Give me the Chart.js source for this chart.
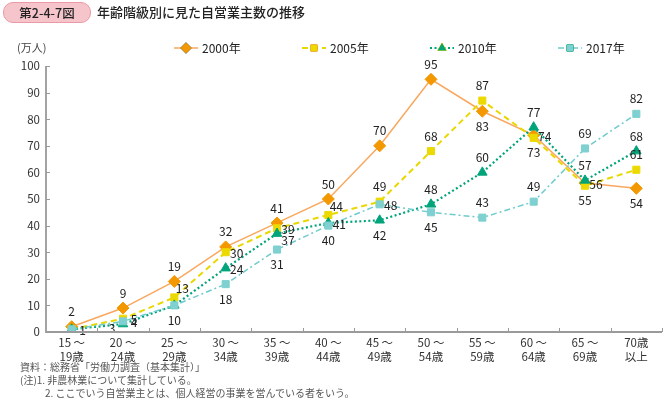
<!DOCTYPE html>
<html lang="ja">
<head>
<meta charset="utf-8">
<script src="https://cdn.jsdelivr.net/npm/chart.js@4.4.1/dist/chart.umd.min.js"></script>
<style>
  html, body { margin: 0; padding: 0; background: #fff; }
  body { width: 669px; height: 403px; position: relative; overflow: hidden;
         font-family: "Noto Sans CJK JP", "Noto Sans", sans-serif; color: #333; }
  #wrap { position: absolute; left: 0; top: 0; width: 669px; height: 403px; }
  .badge { position: absolute; left: 3px; top: 2px; width: 86px; height: 19px;
           background: #f6c5cb; border: 1px solid #e99aa6; border-radius: 10px;
           font-size: 12.5px; line-height: 19px; text-align: center; color: #222; font-weight: 500; }
  .title { position: absolute; left: 97px; top: 3px; font-size: 13px; line-height: 18px; color: #222; font-weight: 500; }
  .unit { position: absolute; left: 17px; top: 39px; font-size: 11px; color: #444; }
  .notes { position: absolute; left: 20px; top: 360px; font-size: 10px; line-height: 13px; color: #555; }
  .notes div.indent { padding-left: 25px; }
</style>
</head>
<body>
<div id="wrap"><canvas id="chart" width="669" height="403"></canvas></div>
<div class="badge">第2-4-7図</div>
<div class="title">年齢階級別に見た自営業主数の推移</div>
<div class="unit">(万人)</div>
<div class="notes">
  <div>資料：総務省「労働力調査（基本集計）」</div>
  <div>(注)1. 非農林業について集計している。</div>
  <div class="indent">2. ここでいう自営業主とは、個人経営の事業を営んでいる者をいう。</div>
</div>
<script>
// 年齢階級
const ageGroups = [
    ['15 〜', '19歳'], ['20 〜', '24歳'], ['25 〜', '29歳'], ['30 〜', '34歳'],
    ['35 〜', '39歳'], ['40 〜', '44歳'], ['45 〜', '49歳'], ['50 〜', '54歳'],
    ['55 〜', '59歳'], ['60 〜', '64歳'], ['65 〜', '69歳'], ['70歳', '以上']
];

// 自営業主数（万人）
const values2000 = [2, 9, 19, 32, 41, 50, 70, 95, 83, 74, 56, 54];
const values2005 = [1, 5, 13, 30, 39, 44, 49, 68, 87, 73, 55, 61];
const values2010 = [1, 3, 10, 24, 37, 41, 42, 48, 60, 77, 57, 68];
const values2017 = [1, 4, 10, 18, 31, 40, 48, 45, 43, 49, 69, 82];

const seriesNames = ['2000年', '2005年', '2010年', '2017年'];
const yTicks = [0, 10, 20, 30, 40, 50, 60, 70, 80, 90, 100];

// ラベルの位置 (a=上, b=下, r=右, l=左, ar=右上, br=右下, null=なし)
const labelPos2000 = ['a', 'a', 'a', 'a', 'a', 'a', 'a', 'a', 'b', 'r', 'r', 'b'];
const labelPos2005 = [null, 'r', 'ar', 'r', 'r', 'ar', 'a', 'a', 'a', 'b', 'b', 'a'];
const labelPos2010 = [null, 'l', null, 'r', 'br', 'r', 'b', 'a', 'a', 'a', 'a', 'a'];
const labelPos2017 = ['r', 'r', 'b', 'b', 'b', 'b', 'r', 'b', 'a', 'a', 'a', 'a'];

const styles = [
    { line: '#f9a75e', point: '#f39800', dash: [], width: 1.5, shape: 'rectRot', radius: 6 },
    { line: '#e9d800', point: '#ecd900', dash: [6, 4], width: 2, shape: 'rect', radius: 5 },
    { line: '#00a47a', point: '#00a47a', dash: [2, 2.5], width: 2.2, shape: 'triangle', radius: 5.5 },
    { line: '#6fcbcc', point: '#7fd0d0', dash: [6, 3, 2, 3], width: 1.5, shape: 'rect', radius: 5 }
];

const allValues = [values2000, values2005, values2010, values2017];
const allLabelPos = [labelPos2000, labelPos2005, labelPos2010, labelPos2017];

// ラベル・軸・凡例の描画
const decorPlugin = {
    id: 'decor',
    afterDatasetsDraw(chart) {
        const ctx = chart.ctx;
        ctx.save();
        ctx.font = '12px "Noto Sans CJK JP", "Noto Sans", sans-serif';
        ctx.fillStyle = '#222';
        ctx.textAlign = 'center';
        ctx.textBaseline = 'middle';
        chart.data.datasets.forEach((ds, di) => {
            const meta = chart.getDatasetMeta(di);
            const pos = allLabelPos[di];
            meta.data.forEach((pt, i) => {
                const p = pos[i];
                if (!p) return;
                let dx = 0, dy = 0;
                if (p === 'a') dy = -15;
                if (p === 'b') dy = 15;
                if (p === 'r') { dx = 11; dy = 1; }
                if (p === 'l') { dx = -11; dy = 4; }
                if (p === 'ar') { dx = 8; dy = -9; }
                if (p === 'br') { dx = 11; dy = 7; }
                ctx.fillText(String(ds.data[i]), pt.x + dx, pt.y + dy);
            });
        });
        ctx.restore();
    },
    afterDraw(chart) {
        const ctx = chart.ctx;
        const area = chart.chartArea;
        const yScale = chart.scales.y;
        ctx.save();
        ctx.strokeStyle = '#9a9a9a';
        ctx.lineWidth = 1.8;
        ctx.beginPath();
        ctx.moveTo(area.left, area.top);
        ctx.lineTo(area.left, area.bottom);
        ctx.lineTo(area.right, area.bottom);
        ctx.stroke();
        ctx.lineWidth = 1;
        ctx.beginPath();
        yTicks.forEach(v => {
            const y = Math.round(yScale.getPixelForValue(v)) + 0.5;
            ctx.moveTo(area.left, y);
            ctx.lineTo(area.left + 4, y);
        });
        const n = ageGroups.length;
        for (let i = 1; i <= n; i++) {
            const x = Math.round(area.left + (area.right - area.left) * i / n) + 0.5;
            ctx.moveTo(x, area.bottom);
            ctx.lineTo(x, area.bottom - 4);
        }
        ctx.stroke();

        // 凡例
        const legendX = [174, 302, 430, 558];
        const legendY = 48;
        ctx.font = '12px "Noto Sans CJK JP", "Noto Sans", sans-serif';
        ctx.textBaseline = 'middle';
        ctx.textAlign = 'left';
        styles.forEach((s, i) => {
            const x0 = legendX[i];
            ctx.save();
            ctx.strokeStyle = s.line;
            ctx.lineWidth = s.width;
            ctx.setLineDash(s.dash);
            ctx.beginPath();
            ctx.moveTo(x0, legendY);
            ctx.lineTo(x0 + 24, legendY);
            ctx.stroke();
            ctx.restore();
            Chart.helpers.drawPoint(ctx, {
                pointStyle: s.shape, radius: s.radius - 0.5, borderWidth: 1,
                rotation: 0
            }, x0 + 12, legendY);
            ctx.fillStyle = s.point;
            ctx.strokeStyle = s.point;
            ctx.fill();
            ctx.fillStyle = '#222';
            ctx.fillText(seriesNames[i], x0 + 28, legendY);
        });
        ctx.restore();
    }
};

function makeDataset(i) {
    const s = styles[i];
    return {
        label: seriesNames[i],
        data: allValues[i],
        borderColor: s.line,
        borderWidth: s.width,
        borderDash: s.dash,
        backgroundColor: s.point,
        pointBackgroundColor: s.point,
        pointBorderColor: s.point,
        pointBorderWidth: 1,
        pointStyle: s.shape,
        pointRadius: s.radius,
        tension: 0,
        fill: false,
        order: 4 - i
    };
}

const chart = new Chart(document.getElementById('chart').getContext('2d'), {
    type: 'line',
    data: {
        labels: ageGroups,
        datasets: [makeDataset(0), makeDataset(1), makeDataset(2), makeDataset(3)]
    },
    options: {
        responsive: false,
        animation: false,
        devicePixelRatio: 1,
        layout: { padding: { left: 0, right: 1, top: 66, bottom: 36 } },
        scales: {
            x: {
                offset: true,
                grid: { display: false, drawTicks: false, tickLength: 0 },
                border: { display: false },
                ticks: {
                    color: '#333',
                    font: { size: 11.5, family: '"Noto Sans CJK JP", "Noto Sans", sans-serif', lineHeight: 1.2 },
                    padding: 4,
                    maxRotation: 0,
                    autoSkip: false
                },
                afterFit(scale) { scale.height = 35; }
            },
            y: {
                min: 0,
                max: 100,
                grid: { display: false, drawTicks: false, tickLength: 0 },
                border: { display: false },
                ticks: {
                    stepSize: 10,
                    color: '#333',
                    padding: 6,
                    font: { size: 11.5, family: '"Noto Sans CJK JP", "Noto Sans", sans-serif' }
                },
                afterFit(scale) { scale.width = 46; }
            }
        },
        plugins: {
            legend: { display: false },
            tooltip: { enabled: false }
        }
    },
    plugins: [decorPlugin]
});
</script>
</body>
</html>
